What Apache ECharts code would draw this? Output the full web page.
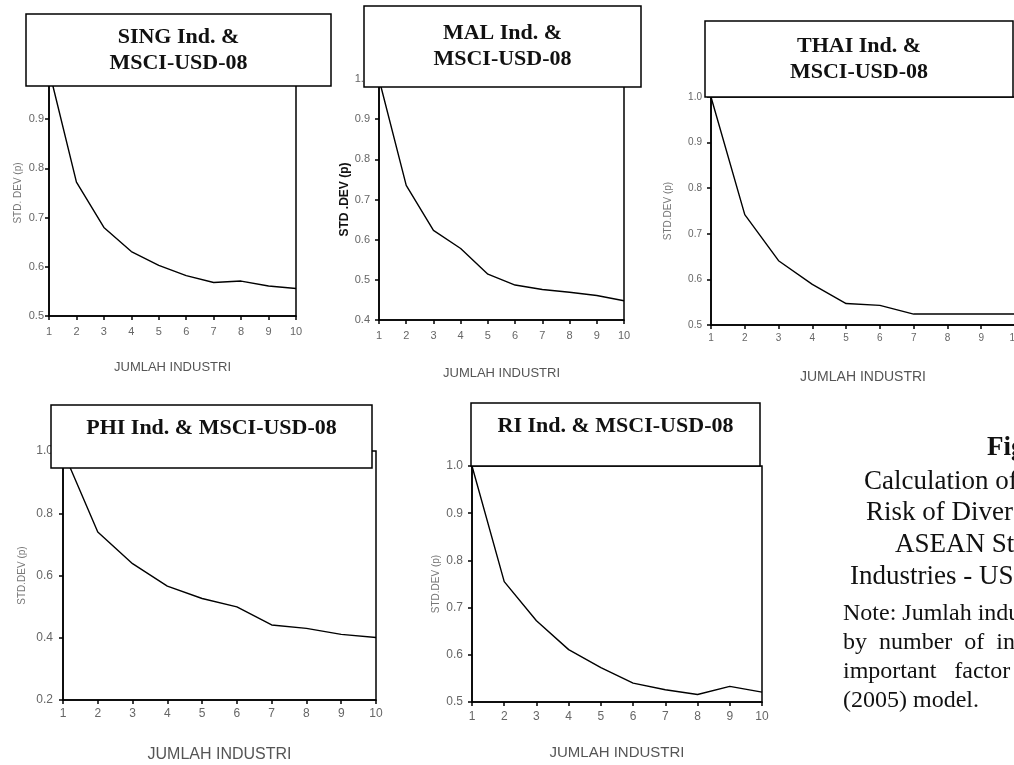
<!DOCTYPE html>
<html>
<head>
<meta charset="utf-8">
<script src="https://cdn.jsdelivr.net/npm/echarts@6/dist/echarts.min.js"></script>
<style>
	html, body { margin: 0; padding: 0; background: #fff; }
	#chart { width: 1014px; height: 765px; }
</style>
</head>
<body>
<div id="chart"></div>
<script>
// jumlah industri (sumbu x)
var industries = [1, 2, 3, 4, 5, 6, 7, 8, 9, 10];
// std dev portofolio per negara
var singData = [1.0, 0.772, 0.680, 0.631, 0.603, 0.582, 0.568, 0.571, 0.561, 0.556];
var malData = [1.0, 0.735, 0.623, 0.578, 0.514, 0.487, 0.476, 0.469, 0.461, 0.448];
var thaiData = [1.0, 0.742, 0.641, 0.589, 0.547, 0.543, 0.524, 0.524, 0.524, 0.524];
var phiData = [1.0, 0.740, 0.638, 0.566, 0.526, 0.499, 0.441, 0.430, 0.411, 0.401];
var riData = [1.0, 0.755, 0.672, 0.611, 0.573, 0.540, 0.526, 0.516, 0.533, 0.521];
// batas sumbu y
var yMins = [0.5, 0.4, 0.5, 0.2, 0.5];
var yIntervals = [0.1, 0.1, 0.1, 0.2, 0.1];
var titles = [
	['SING Ind. &', 'MSCI-USD-08'],
	['MAL Ind. &', 'MSCI-USD-08'],
	['THAI Ind. &', 'MSCI-USD-08'],
	['PHI Ind. & MSCI-USD-08'],
	['RI Ind. & MSCI-USD-08']
];
var yNames = ['STD. DEV (p)', 'STD .DEV (p)', 'STD.DEV (p)', 'STD.DEV (p)', 'STD.DEV (p)'];
var xName = 'JUMLAH INDUSTRI';

var allData = [singData, malData, thaiData, phiData, riData];

// posisi tiap panel
var grids = [
	{ left: 49, top: 70, width: 247, height: 246 },
	{ left: 379, top: 79, width: 245, height: 241 },
	{ left: 711, top: 97, width: 304, height: 228 },
	{ left: 63, top: 451, width: 313, height: 249 },
	{ left: 472, top: 466, width: 290, height: 236 }
];
// kotak judul [x, y, w, h]
var boxes = [
	[26, 14, 305, 72],
	[364, 6, 277, 81],
	[705, 21, 308, 76],
	[51, 405, 321, 63],
	[471, 403, 289, 63]
];

var sans = 'Liberation Sans, Arial, sans-serif';
var serif = 'Liberation Serif, Times New Roman, serif';
var labelSize = [11, 11, 10, 12, 12];
var nameSize = [13, 13, 14, 16, 15];
var xNameGap = [45, 47, 45, 47, 43];
var yNameGap = [26, 24, 38, 36, 31];
var yLabelMargin = [5, 9, 9, 10, 9];
var xLabelMargin = [10, 10, 8, 8, 9];

var xAxes = [], yAxes = [], series = [], graphics = [];
for (var i = 0; i < 5; i++) {
	xAxes.push({
		type: 'value', gridIndex: i, min: 1, max: 10, interval: 1,
		name: xName, nameLocation: 'middle', nameGap: xNameGap[i],
		nameTextStyle: { color: '#555', fontSize: nameSize[i], fontFamily: sans },
		axisLine: { lineStyle: { color: '#000', width: 1.5 } },
		axisTick: { length: 4, lineStyle: { color: '#000', width: 1.5 } },
		axisLabel: { color: '#666', fontSize: labelSize[i], fontFamily: sans, margin: xLabelMargin[i] },
		splitLine: { show: false }
	});
	yAxes.push({
		type: 'value', gridIndex: i, min: yMins[i], max: 1.0, interval: yIntervals[i],
		name: yNames[i], nameLocation: 'middle', nameGap: yNameGap[i],
		nameTextStyle: i == 1
			? { color: '#111', fontSize: 12, fontWeight: 'bold', fontFamily: sans }
			: { color: '#777', fontSize: 10, fontFamily: sans },
		axisLine: { lineStyle: { color: '#000', width: 1.5 } },
		axisTick: { length: 4, lineStyle: { color: '#000', width: 1.5 } },
		axisLabel: {
			color: '#666', fontSize: labelSize[i], fontFamily: sans, margin: yLabelMargin[i],
			formatter: function(v) { return v.toFixed(1); }
		},
		splitLine: { show: false }
	});
	series.push({
		type: 'line', xAxisIndex: i, yAxisIndex: i,
		data: industries.map(function(x, k) { return [x, allData[i][k]]; }),
		showSymbol: false, symbol: 'none',
		lineStyle: { color: '#000', width: 1.4 },
		z: 2
	});
	// kotak judul putih menutupi bagian atas panel
	var b = boxes[i];
	graphics.push({
		type: 'rect', z: 100,
		shape: { x: b[0], y: b[1], width: b[2], height: b[3] },
		style: { fill: '#fff', stroke: '#000', lineWidth: 1.5 }
	});
	var lines = titles[i];
	var lh = 26;
	var y0 = b[1] + b[3] / 2 - (lines.length - 1) * lh / 2 - (lines.length == 1 ? 8 : 0);
	for (var j = 0; j < lines.length; j++) {
		graphics.push({
			type: 'text', z: 101,
			x: b[0] + b[2] / 2, y: y0 + j * lh,
			style: {
				text: lines[j], fill: '#111', fontSize: 22, fontWeight: 'bold', fontFamily: serif,
				textAlign: 'center', textVerticalAlign: 'middle'
			}
		});
	}
}

// keterangan gambar di kanan
var caption = [
	{ t: 'Figure 3', x: 987, y: 448, bold: true },
	{ t: 'Calculation of Portfolio', x: 864, y: 482 },
	{ t: 'Risk of Diversification', x: 866, y: 513 },
	{ t: 'ASEAN Stock Market', x: 895, y: 545 },
	{ t: 'Industries - USD-08', x: 850, y: 577 },
	{ t: 'Note: Jumlah industri is measured', x: 843, y: 614, note: true },
	{ t: 'by  number  of  industries,  an', x: 843, y: 643, note: true },
	{ t: 'important   factor   in   the', x: 843, y: 672, note: true },
	{ t: '(2005) model.', x: 843, y: 701, note: true }
];
caption.forEach(function(c) {
	graphics.push({
		type: 'text', z: 101, x: c.x, y: c.y,
		style: {
			text: c.t, fill: '#111', fontFamily: serif,
			fontSize: c.note ? 24 : 27, fontWeight: c.bold ? 'bold' : 'normal',
			textAlign: 'left', textVerticalAlign: 'middle'
		}
	});
});

var myChart = echarts.init(document.getElementById('chart'));
var option = {
	backgroundColor: '#fff',
	animation: false,
	grid: grids.map(function(g) {
		return { left: g.left, top: g.top, width: g.width, height: g.height,
			outerBoundsMode: 'none',
			show: true, borderColor: '#000', borderWidth: 1.5, backgroundColor: 'transparent' };
	}),
	xAxis: xAxes,
	yAxis: yAxes,
	series: series,
	graphic: graphics
};
myChart.setOption(option);
</script>
</body>
</html>
